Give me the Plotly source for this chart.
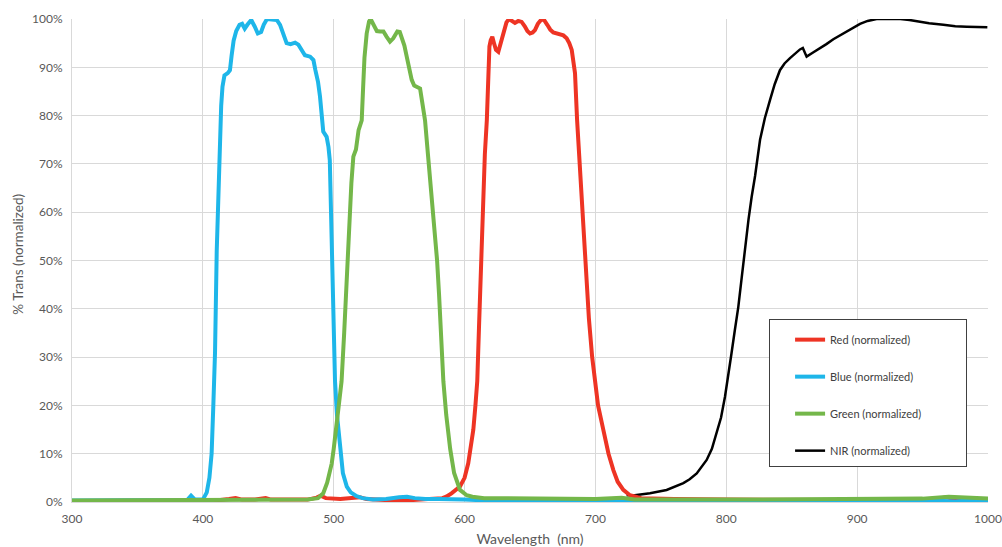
import plotly.graph_objects as go

# ---- data (wavelength nm, % transmission normalized) ----
blue_wl = [300, 380, 388, 391, 394, 400, 403, 405, 406.7, 408, 409.3, 410.6, 411.5, 412.6, 414, 415, 416.5, 419, 420.7,
           422, 423.5, 425.5, 428, 430, 432, 434, 437, 439.5, 442, 444.5, 446.5, 449, 453, 456.5, 459, 461.5, 464,
           467, 470.5, 473, 475, 478, 482, 484.5, 486, 488, 489.5, 491, 492, 494.6, 496, 497, 498, 499, 500, 501,
           502.5, 504.8, 507, 510, 513, 517.5, 522, 530, 540, 550, 556, 562, 570, 580, 590, 600, 620, 700, 800, 900,
           950, 965, 975, 985, 1000]
blue_t = [0.3, 0.3, 0.4, 1.3, 0.5, 0.5, 2, 5, 10, 20, 31, 52, 62, 72, 82, 86, 88.3, 88.8, 89.4,
          92.5, 95.5, 97.5, 98.8, 99, 98, 98.8, 99.8, 98.5, 97, 97.3, 98.8, 100, 100, 99.8, 98.8, 97, 95,
          94.8, 95.1, 94.7, 93.8, 92.5, 92.2, 91.5, 89.4, 87, 84, 80, 76.7, 75.6, 73.5, 70.8, 60, 45, 33, 25,
          18, 11.4, 6, 3.2, 2, 1.2, 0.8, 0.5, 0.6, 1.0, 1.1, 0.8, 0.6, 0.6, 0.6, 0.5, 0.3, 0.2, 0.2, 0.2,
          0.3, 0.2, 0.1, 0.3, 0.2]

green_wl = [300, 400, 450, 480, 488, 492, 495, 498.5, 500, 502, 504, 506, 508, 510, 512, 513.5, 515, 517, 519, 521.4,
            522.5, 523.5, 525.2, 527, 528.2, 530, 531.5, 533, 535.4, 538, 540.5, 543, 545.5, 548.6, 550.5, 552,
            554, 555.8, 557.8, 559.6, 561.5, 563.4, 566, 567.5, 569.8, 572, 574, 575.8, 577.5, 579, 580.5, 582,
            583.8, 586, 589, 592, 594, 596.5, 601.6, 606, 615, 650, 700, 720, 730, 800, 900, 950, 970, 980, 1000]
green_t = [0.3, 0.3, 0.4, 0.5, 0.8, 1.8, 4, 8, 11, 16, 21, 25, 35, 47, 58, 66, 71.5, 73, 77, 79,
           86, 92, 97, 99.5, 100, 99, 98.4, 97.5, 97.4, 97.4, 96.3, 95.3, 96, 97.4, 97.3, 96.3,
           94.5, 92.2, 89.5, 87.4, 86.2, 85.9, 85.6, 83, 79, 72, 66, 60, 55, 50, 43, 35,
           25, 18, 11, 6, 4.5, 2.5, 1.4, 1.1, 0.8, 0.7, 0.6, 0.9, 0.5, 0.5, 0.6, 0.7, 1.1, 0.9, 0.7]

red_wl = [300, 410, 420, 425, 430, 440, 448, 452, 480, 487, 490, 494, 505, 515, 520, 525, 540, 560, 575, 583, 586,
          590, 596.5, 600, 602.8, 604.8, 606.7, 608.3, 609.7, 611, 612.5, 614, 615.5, 617, 618, 619, 620, 621.2,
          622.5, 624, 625.8, 627.5, 629.6, 632, 634, 636, 638.5, 641, 643.6, 646, 648, 650, 652, 653.8, 656, 659,
          661, 663.2, 665.5, 667.8, 670, 672.9, 675.5, 678, 680, 681.9, 683.2, 684.4, 686, 688, 690, 692.5, 695,
          697.5, 699.7, 702, 706, 710, 713.7, 717, 721.3, 726.4, 735, 760, 800, 900, 960, 968, 975, 1000]
red_t = [0.2, 0.3, 0.6, 0.8, 0.5, 0.5, 0.8, 0.5, 0.5, 0.9, 1.3, 0.8, 0.6, 0.8, 1.0, 0.6, 0.4, 0.4, 0.6, 0.8, 1.1,
         1.8, 3.2, 5, 8, 11, 15, 20, 25, 36, 50, 62, 72, 79, 88, 94.3, 95.6, 96.3,
         95, 93.6, 93.2, 95, 97.4, 99.3, 100, 99.6, 99.2, 99.6, 99.4, 98.5, 97.5, 97, 97.2, 97.7, 99, 100,
         99.7, 98.8, 97.8, 97.2, 97, 96.9, 96.6, 96, 95, 93.6, 91.5, 88.8, 79, 70, 60, 50, 38,
         30, 25, 20, 15, 10, 6.6, 4.2, 2.5, 1.4, 0.8, 0.6, 0.5, 0.4, 0.6, 1.0, 0.6, 0.5]

nir_wl = [723.8, 730, 741.7, 754.4, 767.2, 772, 777.4, 781, 785, 789, 792.7, 796, 799, 801.5, 804, 806.5, 809.2,
          811.8, 814.3, 817, 819.4, 822, 825.8, 829.5, 833.4, 837, 841, 844.5, 848.7, 852.5, 856.3, 858.5, 861.4,
          866, 871.6, 876.5, 881.8, 887, 892, 897, 902.2, 908, 914.9, 925, 933, 940, 945.5, 955, 965.9, 975,
          983.7, 992, 999.5]
nir_t = [1.4, 1.4, 1.8, 2.5, 3.9, 4.7, 5.9, 7.2, 8.7, 11, 14.2, 17.5, 21.8, 26, 30.8, 35.5, 40.4,
         46.5, 52.9, 58.5, 63.2, 67.5, 75, 79.5, 83.2, 86.5, 89.4, 90.8, 91.9, 92.8, 93.7, 94, 92.2,
         93, 93.9, 94.8, 95.8, 96.6, 97.4, 98.2, 99, 99.6, 100, 100, 100, 99.8, 99.5, 99.1, 98.8, 98.5,
         98.4, 98.4, 98.3]

x_ticks = [300, 400, 500, 600, 700, 800, 900, 1000]
y_ticks = [0, 10, 20, 30, 40, 50, 60, 70, 80, 90, 100]
y_labels = [f"{v}%" for v in y_ticks]

names = ["Red (normalized)", "Blue (normalized)", "Green (normalized)", "NIR (normalized)"]
x_title = "Wavelength  (nm)"
y_title = "% Trans (normalized)"

FONT = "Lato, 'Open Sans', sans-serif"
PAD = "\u00a0" * 14  # right padding inside the legend box

fig = go.Figure()
series = [
    (red_wl, red_t, "#EE3424", 4, names[0]),
    (blue_wl, blue_t, "#1EB6E9", 4, names[1]),
    (green_wl, green_t, "#74B74A", 4, names[2]),
    (nir_wl, nir_t, "#000000", 2.5, names[3]),
]
# draw order: NIR first (below), then red, blue, green on top
draw_order = [3, 0, 1, 2]
for i in draw_order:
    wl, t, col, w, nm = series[i]
    fig.add_trace(go.Scatter(x=wl, y=t, mode="lines", name=nm + PAD,
                             line=dict(color=col, width=w),
                             legendgroup=nm, legendrank=i + 1))

fig.update_layout(
    width=1002, height=547,
    margin=dict(l=72, r=14, t=19, b=45),
    paper_bgcolor="white", plot_bgcolor="white",
    font=dict(family=FONT, size=12, color="#595959"),
    showlegend=True,
    legend=dict(x=0.761, y=0.379, xanchor="left", yanchor="top",
                bgcolor="white", bordercolor="#404040", borderwidth=1,
                font=dict(family=FONT, size=11, color="#404040"),
                title=dict(text="\u00a0", font=dict(size=4)),
                itemwidth=30, tracegroupgap=18, traceorder="grouped",
                indentation=20),
    xaxis=dict(range=[300, 1000], tickvals=x_ticks, ticktext=[str(v) for v in x_ticks],
               showgrid=True, gridcolor="#D9D9D9", gridwidth=1,
               showline=True, linecolor="#D9D9D9", linewidth=1,
               zeroline=False, ticks="", ticklabelstandoff=6, automargin=False,
               tickfont=dict(size=12, color="#595959"),
               title=dict(text=x_title, font=dict(size=14, color="#595959"))),
    yaxis=dict(range=[0, 100], tickvals=y_ticks, ticktext=y_labels,
               showgrid=True, gridcolor="#D9D9D9", gridwidth=1,
               showline=True, linecolor="#D9D9D9", linewidth=1,
               zeroline=False, ticks="", ticklabelstandoff=6, automargin=False,
               tickfont=dict(size=12, color="#595959")),
    annotations=[dict(text=y_title, x=0, xref="paper", xshift=-54, xanchor="center",
                      y=0.512, yref="paper", yanchor="middle", textangle=-90, showarrow=False,
                      font=dict(family=FONT, size=13.5, color="#595959"))],
)

fig.write_html("out.html", config={"displayModeBar": False},
               post_script="document.body.style.margin='0px';document.body.style.overflow='hidden';")
